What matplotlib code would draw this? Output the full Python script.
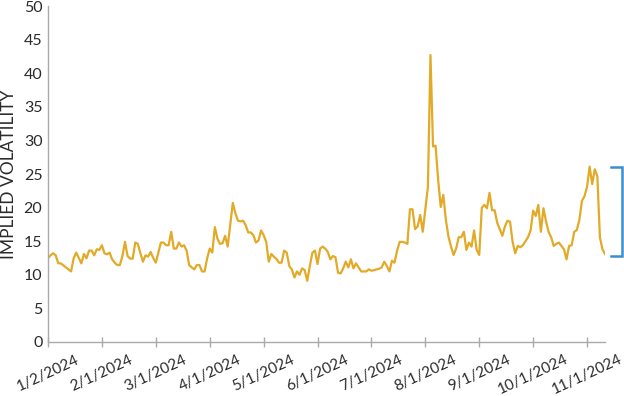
import matplotlib
matplotlib.use("Agg")
import matplotlib.pyplot as plt
import matplotlib.transforms as mtransforms

plt.rcParams['font.family'] = ['Lato', 'DejaVu Sans']

tick_labels = ["1/2/2024", "2/1/2024", "3/1/2024", "4/1/2024", "5/1/2024",
               "6/1/2024", "7/1/2024", "8/1/2024", "9/1/2024", "10/1/2024", "11/1/2024"]
days_per_tick = 21

implied_vol = [
    12.45, 12.9, 13.2, 12.9, 11.7, 11.7, 11.4, 11.1, 10.8, 10.5,
    12.45, 13.3, 12.5, 11.7, 13.1, 12.45, 13.6, 13.6, 12.9, 13.8,
    13.7, 14.4, 13.2, 13.05, 13.3, 12.3, 11.8, 11.45, 11.45, 12.8,
    14.9, 12.8, 12.4, 12.4, 14.8, 14.6, 13.2, 11.95, 12.9, 12.7,
    13.4, 12.5, 11.8, 13.3, 14.8, 14.8, 14.4, 14.4, 16.4, 13.9,
    13.9, 14.8, 14.2, 14.4, 13.6, 11.45, 11.1, 10.8, 11.45, 11.45,
    10.5, 10.5, 12.45, 13.9, 13.3, 17.1, 15.4, 14.6, 14.7, 15.8,
    14.2, 17.5, 20.7, 19.15, 18.05, 17.95, 18.05, 17.4, 16.3, 16.3,
    15.9, 14.8, 15.1, 16.6, 15.9, 14.9, 11.95, 13.1, 12.7, 12.35,
    11.8, 11.8, 13.6, 13.3, 11.3, 10.8, 9.6, 10.5, 10.0, 10.95,
    10.7, 9.1, 11.3, 13.3, 13.6, 11.6, 13.9, 14.2, 13.9, 13.4,
    12.3, 12.8, 12.6, 10.3, 10.2, 10.95, 11.95, 11.1, 12.3, 10.95,
    11.7, 11.1, 10.5, 10.5, 10.5, 10.8, 10.6, 10.7, 10.8, 10.9,
    11.1, 11.95, 11.3, 10.5, 12.1, 11.8, 13.6, 14.9, 14.9, 14.8,
    14.6, 19.75, 19.75, 16.8, 17.2, 18.9, 16.4, 19.8, 23.1, 42.7,
    29.1, 29.2, 24.1, 20.1, 21.9, 18.15, 15.7, 14.2, 12.95, 13.9,
    15.6, 15.6, 16.4, 13.7, 14.8, 14.2, 16.6, 13.7, 12.95, 20.0,
    20.4, 19.9, 22.2, 19.6, 19.6, 17.75, 16.8, 15.8, 17.2, 18.05,
    17.9, 14.9, 13.2, 14.3, 14.1, 14.4, 15.0, 15.6, 16.6, 19.55,
    18.75, 20.4, 16.4, 19.9, 18.0, 16.4, 15.6, 14.3, 14.6, 14.8,
    14.3, 13.8, 12.3, 14.3, 14.4, 16.4, 16.65, 18.15, 21.0, 21.7,
    23.1, 26.1, 23.5, 25.7, 24.7, 15.6, 13.8, 13.1,
]

bracket_low = 12.8
bracket_high = 26.0

line_color = "#E2AA27"
bracket_color = "#3B8ED2"
text_color = "#2B2B2B"
axis_color = "#AAAAAA"

fig = plt.figure(figsize=(6.24, 3.96), dpi=100)
ax = fig.add_axes([0.0769, 0.1364, 0.8927, 0.8484])

x = list(range(len(implied_vol)))
ax.plot(x, implied_vol, color=line_color, lw=1.6, solid_joinstyle='round')

ax.set_xlim(0, len(implied_vol) - 1)
ax.set_ylim(0, 50)
ax.set_yticks(range(0, 51, 5))
ax.set_xticks([i * days_per_tick for i in range(len(tick_labels))])
ax.set_xticklabels(tick_labels, rotation=25, ha='center', va='top')

for s in ['top', 'right']:
    ax.spines[s].set_visible(False)
for s in ['left', 'bottom']:
    ax.spines[s].set_color(axis_color)
    ax.spines[s].set_linewidth(1.0)

ax.tick_params(axis='y', length=0, pad=4, labelsize=11.5, labelcolor=text_color)
ax.tick_params(axis='x', direction='inout', length=7, width=1.0, color=axis_color,
               pad=4, labelsize=11, labelcolor=text_color)

ax.set_ylabel("IMPLIED VOLATILITY", fontsize=12.5, color=text_color, labelpad=5)

# bracket showing range from latest value to recent peak
trans = mtransforms.blended_transform_factory(ax.transAxes, ax.transData)
bx = 1.0 + 17 / (0.8927 * 624)
tx = 1.0 + 6 / (0.8927 * 624)
ax.plot([tx, bx, bx, tx], [bracket_high, bracket_high, bracket_low, bracket_low],
        transform=trans, color=bracket_color, lw=1.8, clip_on=False,
        solid_joinstyle='miter')

fig.savefig("out.png", dpi=100)
